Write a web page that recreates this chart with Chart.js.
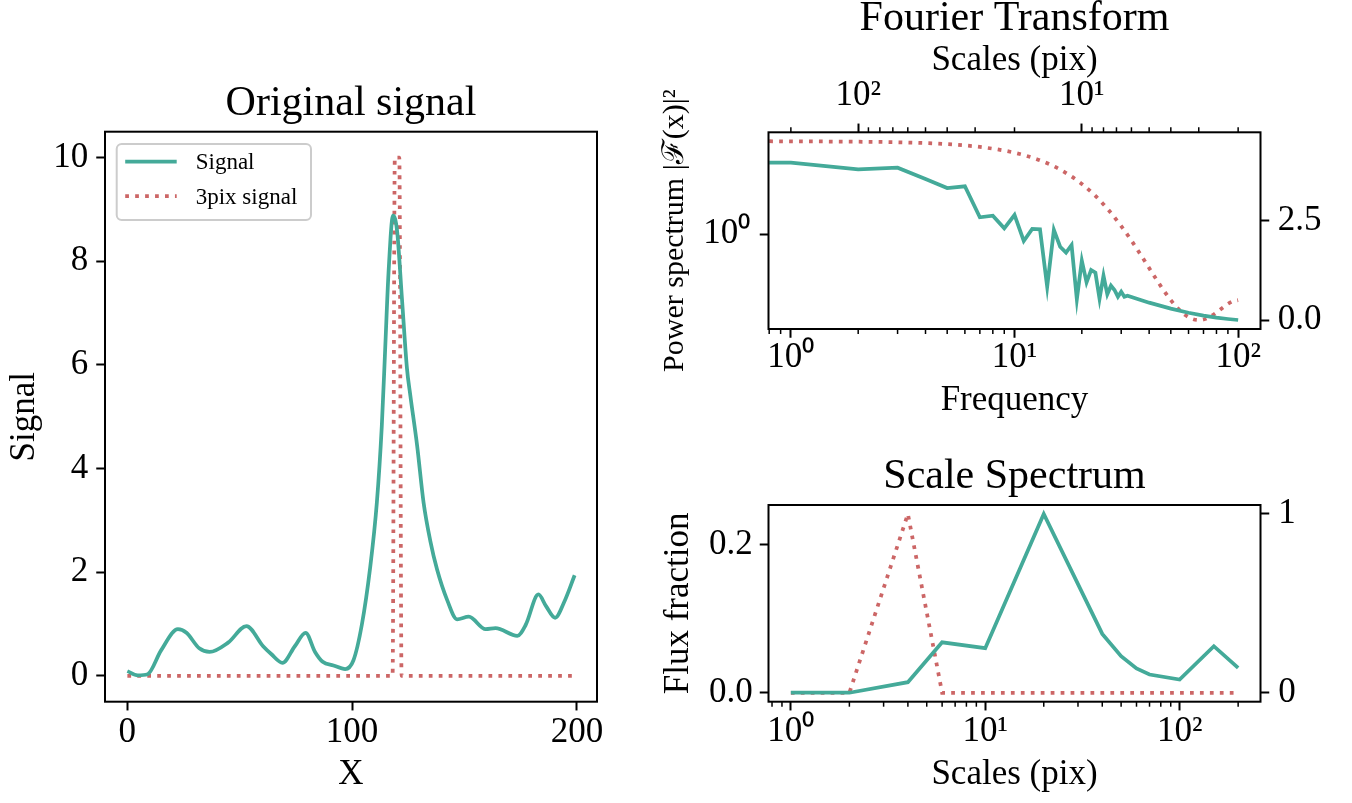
<!DOCTYPE html>
<html>
<head>
<meta charset="utf-8">
<script src="https://cdn.jsdelivr.net/npm/chart.js"></script>
<style>
    html, body { margin: 0; padding: 0; background: #fff; }
    #page { position: relative; width: 1352px; height: 803px; overflow: hidden; }
    canvas { position: absolute; }
</style>
</head>
<body>
<div id="page">
    <canvas id="signal-chart" width="640" height="803" style="left:0;top:0"></canvas>
    <canvas id="fourier-chart" width="712" height="440" style="left:640px;top:0"></canvas>
    <canvas id="scale-chart" width="712" height="363" style="left:640px;top:440px"></canvas>
</div>
<script>
// left panel: original signal
const sigX = [0, 4.6, 9, 15, 22.5, 26.3, 32, 36.6, 44.8, 53, 60.4, 64, 69, 74.5, 79.3, 83.5, 86.9, 91.7,
    96.9, 100.6, 104.3, 108, 111, 113.2, 114.7, 116.2, 118.2, 120, 122.2, 124.4, 125.9, 128.9, 131.8,
    134.8, 137.8, 142.3, 146.7, 151.9, 159.4, 163.8, 173.5, 177.2, 182.9, 186.2, 190.3, 194.3, 199];
const sigY = [0.09, 0.01, 0.03, 0.49, 0.9, 0.83, 0.53, 0.46, 0.64, 0.96, 0.57, 0.42, 0.25, 0.57, 0.83, 0.46,
    0.27, 0.2, 0.13, 0.3, 0.98, 2.08, 3.34, 4.82, 6.3, 7.78, 8.88, 8.59, 7.26, 5.93, 5.41, 4.45, 3.34,
    2.6, 2.05, 1.46, 1.09, 1.14, 0.9, 0.92, 0.77, 0.98, 1.57, 1.35, 1.12, 1.42, 1.94];
const boxX = [0, 118, 119, 121, 122, 199];
const boxY = [0, 0, 10, 10, 0, 0];
const signalXTicks = [0, 100, 200];
const signalYTicks = [0, 2, 4, 6, 8, 10];

// top right: power spectra
const freq = [0.8, 1, 2, 3, 4, 5, 6, 7, 8, 9, 10, 11, 12, 13, 14, 15, 16, 17, 18, 19, 20, 21, 22, 23, 24,
    25, 26, 27, 28, 29, 30, 31, 32, 40, 50, 60, 70, 80, 90, 100];
const powerSig = [731, 731, 398, 461, 163, 71.1, 83.2, 4.79, 5.55, 1.74, 5.92, 0.54, 1.63, 1.58, 0.008,
    1.49, 0.319, 0.184, 0.373, 0.00251, 0.0879, 0.012, 0.0373, 0.0291, 0.00265, 0.0221, 0.00398,
    0.00879, 0.00592, 0.00319, 0.00506, 0.00319, 0.0035, 0.00184, 0.00106, 0.00073, 0.000555,
    0.000461, 0.000409, 0.000373];
const freqBox = [0.8, 1, 2, 3, 5, 7, 10, 13, 16, 20, 23, 26, 30, 33, 36, 40, 43, 46, 50, 54, 58, 62, 66,
    70, 75, 80, 85, 90, 95, 100];
const powerBox = [4.49, 4.487, 4.478, 4.464, 4.417, 4.347, 4.202, 4.011, 3.78, 3.419, 3.119, 2.8, 2.361,
    2.032, 1.71, 1.306, 1.029, 0.78, 0.499, 0.28, 0.126, 0.035, 0.001, 0.015, 0.086, 0.191, 0.305,
    0.406, 0.475, 0.499];
const powerBoxTicks = [0, 2.5];

// bottom right: scale spectrum
const scales = [1, 2, 4, 6, 10, 20, 40, 50, 60, 70, 100, 150, 200];
const fluxSig = [0, 0, 0.0143, 0.0682, 0.0602, 0.2417, 0.0795, 0.0494, 0.0328, 0.0247, 0.0179, 0.0629, 0.0337];
const fluxBox = [0, 0, 1, 0, 0, 0, 0, 0, 0, 0, 0, 0, 0];
const fluxSigTicks = [0, 0.2];
const fluxBoxTicks = [0, 1];

const logLabels = {1: '10⁰', 10: '10¹', 100: '10²'};
const minorFreq = [0.8, 0.9, 2, 3, 4, 5, 6, 7, 8, 9, 20, 30, 40, 50, 60, 70, 80, 90];
const minorScale = [2, 3, 4, 5, 6, 7, 8, 9, 20, 30, 40, 50, 60, 70, 80, 90, 200];

const TEAL = '#44AA99';
const ROSE = '#CC6666';
const LW = 3.75;

Chart.defaults.font.family = "'Liberation Serif', 'Times New Roman', serif";
Chart.defaults.color = '#000';
Chart.defaults.animation = false;

function pts(xs, ys) {
    return xs.map((x, i) => ({x: x, y: ys[i]}));
}

function solid(label, data) {
    return {label: label, data: data, borderColor: TEAL, borderWidth: LW, pointRadius: 0,
        cubicInterpolationMode: 'monotone', fill: false};
}

function dotted(label, data) {
    return {label: label, data: data, borderColor: ROSE, borderWidth: LW, borderDash: [3.75, 6.2],
        borderCapStyle: 'butt', pointRadius: 0, cubicInterpolationMode: 'monotone', fill: false};
}

// common axis look: ticks outside, no grid, frame drawn by plugin
function axis(extra) {
    const base = {
        bounds: 'data',
        border: {display: false},
        grid: {drawOnChartArea: false, tickLength: 8.75, tickWidth: 2, tickColor: '#000'},
        ticks: {font: {size: 35, lineHeight: 1}, color: '#000', autoSkip: false, maxRotation: 0}
    };
    const out = Object.assign({}, base, extra);
    out.ticks = Object.assign({}, base.ticks, extra.ticks || {});
    return out;
}

function onlyTicks(values) {
    return function (scale) {
        scale.ticks = values.filter(v => v >= scale.min && v <= scale.max).map(v => ({value: v}));
    };
}

function framePlugin(minor) {
    return {
        id: 'frame',
        afterDatasetsDraw(chart) {
            const a = chart.chartArea;
            const ctx = chart.ctx;
            ctx.save();
            ctx.strokeStyle = '#000';
            ctx.lineWidth = 1.5;
            (minor || []).forEach(m => {
                const s = chart.scales[m.axis];
                const y0 = s.position === 'top' ? a.top : a.bottom;
                const dir = s.position === 'top' ? -1 : 1;
                m.values.forEach(v => {
                    const x = s.getPixelForValue(v);
                    if (x < a.left || x > a.right) return;
                    ctx.beginPath();
                    ctx.moveTo(x, y0);
                    ctx.lineTo(x, y0 + dir * 5);
                    ctx.stroke();
                });
            });
            ctx.lineWidth = 2;
            ctx.strokeRect(a.left, a.top, a.right - a.left, a.bottom - a.top);
            ctx.restore();
        }
    };
}

// matplotlib-like legend inside the axes, upper left
const legendBox = {
    id: 'legendBox',
    afterDraw(chart) {
        const a = chart.chartArea;
        const ctx = chart.ctx;
        const left = a.left + 11.7, top = a.top + 12.3, w = 194.3, h = 76;
        ctx.save();
        ctx.fillStyle = 'rgba(255,255,255,0.8)';
        ctx.strokeStyle = '#cccccc';
        ctx.lineWidth = 2;
        ctx.beginPath();
        ctx.roundRect(left, top, w, h, 5);
        ctx.fill();
        ctx.stroke();
        chart.data.datasets.forEach((ds, i) => {
            const y = top + 17.5 + i * 34.5;
            ctx.strokeStyle = ds.borderColor;
            ctx.lineWidth = ds.borderWidth;
            ctx.lineCap = 'butt';
            ctx.setLineDash(ds.borderDash || []);
            ctx.beginPath();
            ctx.moveTo(left + 8.5, y);
            ctx.lineTo(left + 60, y);
            ctx.stroke();
            ctx.setLineDash([]);
            ctx.fillStyle = '#000';
            ctx.font = "23px 'Liberation Serif', serif";
            ctx.textBaseline = 'middle';
            ctx.fillText(ds.label, left + 79, y + 1.5);
        });
        ctx.restore();
    }
};

function signalChart() {
    new Chart(document.getElementById('signal-chart'), {
        type: 'line',
        data: {
            datasets: [solid('Signal', pts(sigX, sigY)), dotted('3pix signal', pts(boxX, boxY))]
        },
        options: {
            responsive: false,
            layout: {padding: {left: 0, top: 0, right: 43, bottom: 0}},
            plugins: {
                legend: {display: false},
                tooltip: {enabled: false},
                title: {display: true, text: 'Original signal', fullSize: false,
                    font: {size: 42, weight: 'normal', lineHeight: 1}, padding: {top: 83.1, bottom: 6.6}}
            },
            scales: {
                x: axis({type: 'linear', min: -9.95, max: 208.95,
                    afterBuildTicks: onlyTicks(signalXTicks),
                    afterFit: s => { s.height = 101.3; },
                    ticks: {padding: 5},
                    title: {display: true, text: 'X', font: {size: 35}, padding: {top: 0, bottom: 7}}}),
                y: axis({type: 'linear', min: -0.5, max: 10.5,
                    afterBuildTicks: onlyTicks(signalYTicks),
                    afterFit: s => { s.width = 105; },
                    ticks: {padding: 8},
                    title: {display: true, text: 'Signal', font: {size: 35}, padding: {top: 4, bottom: 0}}})
            }
        },
        plugins: [framePlugin([]), legendBox]
    });
}

function fourierChart() {
    new Chart(document.getElementById('fourier-chart'), {
        type: 'line',
        data: {
            datasets: [
                Object.assign(solid('Signal', pts(freq, powerSig)), {yAxisID: 'y', cubicInterpolationMode: 'default', tension: 0}),
                Object.assign(dotted('3pix signal', pts(freqBox, powerBox)), {yAxisID: 'y2'})
            ]
        },
        options: {
            responsive: false,
            layout: {padding: 0},
            plugins: {
                legend: {display: false},
                tooltip: {enabled: false},
                title: {display: true, text: 'Fourier Transform', fullSize: false,
                    font: {size: 42, weight: 'normal', lineHeight: 0.9}, padding: {top: 0.2, bottom: 0}}
            },
            scales: {
                x: axis({type: 'logarithmic', position: 'bottom', min: 0.7943, max: 125.89,
                    afterBuildTicks: onlyTicks([1, 10, 100]),
                    afterFit: s => { s.height = 111; },
                    ticks: {padding: 3, callback: v => logLabels[v] || ''},
                    title: {display: true, text: 'Frequency', font: {size: 35}, padding: {top: 0, bottom: 18}}}),
                top: axis({type: 'logarithmic', position: 'top', reverse: true, min: 1.5887, max: 251.79,
                    afterBuildTicks: onlyTicks([10, 100]),
                    afterFit: s => { s.height = 94.3; },
                    ticks: {padding: 10.5, callback: v => logLabels[v] || ''},
                    title: {display: true, text: 'Scales (pix)', font: {size: 35}, padding: {top: 1.9, bottom: 0}}}),
                y: axis({type: 'logarithmic', position: 'left', min: 1.629e-4, max: 12023,
                    afterBuildTicks: onlyTicks([1]),
                    afterFit: s => { s.width = 128.5; },
                    ticks: {padding: 9.5, callback: v => logLabels[v] || ''},
                    title: {display: true, text: 'Power spectrum |ℱ(x)|²', font: {size: 30}, padding: {top: 17, bottom: 0}}}),
                y2: axis({type: 'linear', position: 'right', min: -0.2245, max: 4.7145,
                    afterBuildTicks: onlyTicks(powerBoxTicks),
                    afterFit: s => { s.width = 91.5; },
                    ticks: {padding: 8.5, callback: v => v.toFixed(1)}})
            }
        },
        plugins: [framePlugin([{axis: 'x', values: minorFreq}, {axis: 'top', values: minorScale}])]
    });
}

function scaleChart() {
    new Chart(document.getElementById('scale-chart'), {
        type: 'line',
        data: {
            datasets: [
                Object.assign(solid('Signal', pts(scales, fluxSig)), {yAxisID: 'y', cubicInterpolationMode: 'default', tension: 0}),
                Object.assign(dotted('3pix signal', pts(scales, fluxBox)), {yAxisID: 'y2', cubicInterpolationMode: 'default', tension: 0})
            ]
        },
        options: {
            responsive: false,
            layout: {padding: 0},
            plugins: {
                legend: {display: false},
                tooltip: {enabled: false},
                title: {display: true, text: 'Scale Spectrum', fullSize: false,
                    font: {size: 42, weight: 'normal', lineHeight: 0.9}, padding: {top: 17.6, bottom: 9.6}}
            },
            scales: {
                x: axis({type: 'logarithmic', position: 'bottom', min: 0.7673, max: 260.65,
                    afterBuildTicks: onlyTicks([1, 10, 100]),
                    afterFit: s => { s.height = 101.3; },
                    ticks: {padding: 3.5, callback: v => logLabels[v] || ''},
                    title: {display: true, text: 'Scales (pix)', font: {size: 35}, padding: {top: 0, bottom: 7}}}),
                y: axis({type: 'linear', position: 'left', min: -0.0121, max: 0.2538,
                    afterBuildTicks: onlyTicks(fluxSigTicks),
                    afterFit: s => { s.width = 128.5; },
                    ticks: {padding: 7, callback: v => v.toFixed(1)},
                    title: {display: true, text: 'Flux fraction', font: {size: 35}, padding: {top: 18, bottom: 0}}}),
                y2: axis({type: 'linear', position: 'right', min: -0.05, max: 1.05,
                    afterBuildTicks: onlyTicks(fluxBoxTicks),
                    afterFit: s => { s.width = 91.5; },
                    ticks: {padding: 9, callback: v => String(v)}})
            }
        },
        plugins: [framePlugin([{axis: 'x', values: minorScale.concat([0.8, 0.9])}])]
    });
}

signalChart();
fourierChart();
scaleChart();
</script>
</body>
</html>
